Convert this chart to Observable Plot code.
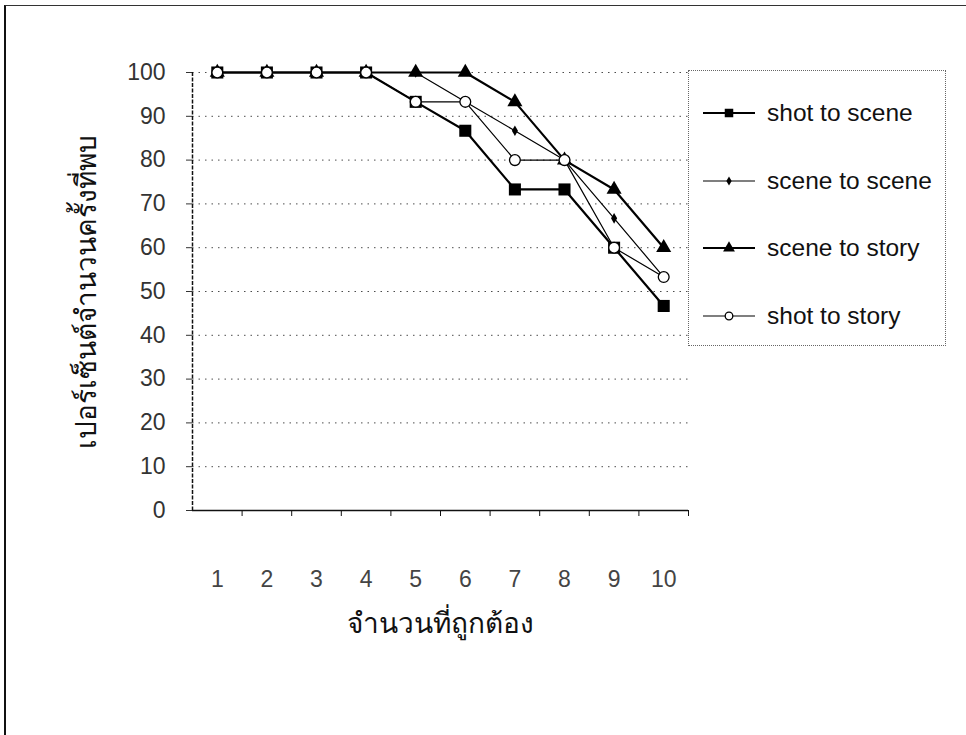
<!DOCTYPE html>
<html>
<head>
<meta charset="utf-8">
<script src="https://cdn.jsdelivr.net/npm/d3@7"></script>
<script src="https://cdn.jsdelivr.net/npm/@observablehq/plot@0.6"></script>
<style>
  html, body { margin: 0; padding: 0; background: #fff; }
  #wrap { position: relative; width: 966px; height: 735px; overflow: hidden; }
  #frame { position: absolute; left: 4px; top: 5px; width: 980px; height: 760px;
           border-left: 2px solid #111; border-top: 1px solid #333; }
  #chart { position: absolute; left: 0; top: 0; }
  #legend { position: absolute; left: 688px; top: 70px; width: 256px; height: 274px;
            border: 1px dotted #666; font-family: "Liberation Sans", Arial, sans-serif; font-size: 24.5px; color: #111; }
  .item { position: absolute; left: 12px; height: 30px; display: flex; align-items: center; }
  .item svg { margin-right: 10px; }
</style>
</head>
<body>
<div id="wrap">
  <div id="frame"></div>
  <div id="chart"></div>
  <div id="legend"></div>
</div>
<script>
const xValues = [1, 2, 3, 4, 5, 6, 7, 8, 9, 10];
const seriesNames = ["shot to scene", "scene to scene", "scene to story", "shot to story"];
const shotToScene  = [100, 100, 100, 100, 93.3, 86.7, 73.3, 73.3, 60, 46.7];
const sceneToScene = [100, 100, 100, 100, 100, 93.3, 86.7, 80, 66.7, 53.3];
const sceneToStory = [100, 100, 100, 100, 100, 100, 93.3, 80, 73.3, 60];
const shotToStory  = [100, 100, 100, 100, 93.3, 93.3, 80, 80, 60, 53.3];
const yTicks = [0, 10, 20, 30, 40, 50, 60, 70, 80, 90, 100];
const xTitle = "จำนวนที่ถูกต้อง";
const yTitle = "เปอร์เซ็นต์จำนวนครั้งที่พบ";

const seriesValues = [shotToScene, sceneToScene, sceneToStory, shotToStory];
const styles = {
  "shot to scene":  {symbol: "square",   r: 6.8, lr: 4.8, fill: "#000", stroke: "none", sw: 2.2},
  "scene to scene": {symbol: "diamond",  r: 3.2, lr: 2.8, fill: "#000", stroke: "none", sw: 1.2},
  "scene to story": {symbol: "triangle", r: 5.6, lr: 4.4, fill: "#000", stroke: "none", sw: 2.2},
  "shot to story":  {symbol: "circle",   r: 5.4, lr: 3.8, fill: "#fff", stroke: "#000", sw: 1.2}
};
const data = seriesNames.flatMap((s, i) => xValues.map((x, j) => ({series: s, x, y: seriesValues[i][j]})));
const boundaries = xValues.map(x => x + 0.5);
const drawOrder = ["scene to story", "scene to scene", "shot to scene", "shot to story"];

const marks = [
  Plot.gridY(yTicks.filter(d => d > 0), {stroke: "#000", strokeOpacity: 0.7, strokeDasharray: "1.5,5"}),
  Plot.axisY(yTicks, {tickSize: 6, tickPadding: 21, fontSize: 23, color: "#333",
    label: null}),
  Plot.axisY({ticks: [], label: yTitle, labelAnchor: "center", labelArrow: "none", labelOffset: 116, fontSize: 28, color: "#111"}),
  Plot.axisX(boundaries, {tickSize: 6, tickFormat: () => "", label: null}),
  Plot.axisX(xValues, {tickSize: 0, tickPadding: 60, fontSize: 23, color: "#444", label: null}),
  Plot.axisX({ticks: [], label: xTitle, labelAnchor: "center", labelArrow: "none", labelOffset: 122, fontSize: 28, color: "#111"}),
  Plot.ruleY([0], {stroke: "#111", strokeWidth: 1.5}),
  Plot.ruleX([0.5], {stroke: "#111", strokeWidth: 1.5, strokeDasharray: "4,1.5"})
];
for (const s of drawOrder) {
  const st = styles[s];
  const d = data.filter(v => v.series === s);
  marks.push(Plot.line(d, {x: "x", y: "y", stroke: "#000", strokeWidth: st.sw}));
}
for (const s of drawOrder) {
  const st = styles[s];
  const d = data.filter(v => v.series === s);
  marks.push(Plot.dot(d, {x: "x", y: "y", symbol: () => st.symbol, r: st.r, fill: st.fill, stroke: st.stroke, strokeWidth: 1.3}));
}

const chart = Plot.plot({
  width: 966, height: 735,
  marginLeft: 192, marginRight: 278, marginTop: 72, marginBottom: 225,
  x: {domain: [0.5, 10.5]},
  y: {domain: [0, 100]},
  symbol: {type: "identity"},
  style: {fontFamily: "'Liberation Sans', Arial, sans-serif", fontSize: "23px", background: "transparent", color: "#111"},
  marks
});
document.getElementById("chart").appendChild(chart);

// legend
const legend = document.getElementById("legend");
seriesNames.forEach((s, i) => {
  const st = styles[s];
  const div = document.createElement("div");
  div.className = "item";
  div.style.top = (27 + i * 67.5) + "px";
  const sym = d3.symbol(
    {square: d3.symbolSquare, diamond: d3.symbolDiamond, triangle: d3.symbolTriangle, circle: d3.symbolCircle}[st.symbol],
    Math.PI * st.lr * st.lr)();
  div.innerHTML = `<svg width="56" height="30"><line x1="2" x2="54" y1="15" y2="15" stroke="#000" stroke-width="${st.sw}"/>` +
    `<path d="${sym}" transform="translate(28,15)" fill="${st.fill}" stroke="${st.stroke}" stroke-width="1.3"/></svg><span>${s}</span>`;
  legend.appendChild(div);
});
</script>
</body>
</html>
